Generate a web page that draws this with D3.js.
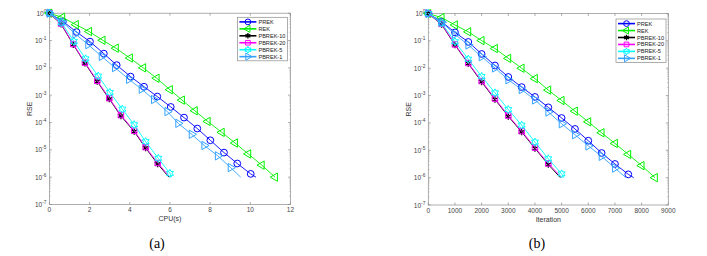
<!DOCTYPE html>
<html>
<head>
<meta charset="utf-8">
<script src="https://cdn.jsdelivr.net/npm/d3@7"></script>
<style>
body { margin: 0; background: #fff; }
text { font-family: "Liberation Sans", Arial, sans-serif; }
.cap { font-family: "Liberation Serif", "Times New Roman", serif; }
</style>
</head>
<body>
<div id="chart"></div>
<script>
// series labels, in plotting order
var seriesNames = ["PREK", "REK", "PBREK-10", "PBREK-20", "PBREK-5", "PBREK-1"];

// iterations at the marker points (last entry = stopping point)
var iterPrek   = [0, 500, 1000, 1500, 2000, 2500, 3000, 3500, 4000, 4500, 5000, 5500, 6000, 6500, 7000, 7500, 7700];
var iterRek    = [0, 500, 1000, 1500, 2000, 2500, 3000, 3500, 4000, 4500, 5000, 5500, 6000, 6500, 7000, 7500, 8000, 8500];
var iterPb10   = [0, 500, 1000, 1500, 2000, 2500, 3000, 3500, 4000, 4500, 4950];
var iterPb20   = [0, 500, 1000, 1500, 2000, 2500, 3000, 3500, 4000, 4500, 5000];
var iterPb5    = [0, 500, 1000, 1500, 2000, 2500, 3000, 3500, 4000, 4500, 5000, 5080];
var iterPb1    = [0, 500, 1000, 1500, 2000, 2500, 3000, 3500, 4000, 4500, 5000, 5500, 6000, 6500, 7000, 7410];

// CPU time (s) at the same points
var cpuPrek = [0, 0.67, 1.35, 2.02, 2.71, 3.35, 4.04, 4.71, 5.37, 6.04, 6.70, 7.36, 8.01, 8.69, 9.35, 10.02, 10.28];
var cpuRek  = [0, 0.64, 1.32, 1.98, 2.65, 3.31, 4.01, 4.67, 5.34, 6.0, 6.6, 7.24, 7.88, 8.58, 9.24, 9.90, 10.57, 11.23];
var cpuPb10 = [0, 0.58, 1.19, 1.77, 2.38, 2.98, 3.56, 4.22, 4.79, 5.39, 5.95];
var cpuPb20 = [0, 0.58, 1.19, 1.77, 2.38, 2.98, 3.56, 4.22, 4.79, 5.39, 6.0];
var cpuPb5  = [0, 0.6, 1.22, 1.80, 2.43, 3.01, 3.63, 4.22, 4.79, 5.42, 6.0, 6.08];
var cpuPb1  = [0, 0.64, 1.29, 1.93, 2.60, 3.26, 3.96, 4.59, 5.2, 5.87, 6.41, 7.08, 7.71, 8.38, 9.02, 9.52];

// RSE, as log10 exponent
var rsePrek = [0, -0.3, -0.69, -1.04, -1.48, -1.9, -2.32, -2.69, -3.05, -3.43, -3.82, -4.22, -4.65, -5.1, -5.5, -5.88, -6.0];
var rseRek  = [0, -0.15, -0.42, -0.67, -0.99, -1.28, -1.64, -2.0, -2.38, -2.8, -3.18, -3.57, -3.96, -4.36, -4.75, -5.15, -5.56, -6.0];
var rsePb10 = [0, -0.4, -1.15, -1.83, -2.5, -3.14, -3.76, -4.33, -4.93, -5.52, -6.0];
var rsePb20 = [0, -0.38, -1.13, -1.81, -2.47, -3.11, -3.73, -4.3, -4.9, -5.48, -6.0];
var rsePb5  = [0, -0.35, -1.03, -1.67, -2.3, -2.9, -3.51, -4.08, -4.7, -5.31, -5.86, -6.0];
var rsePb1  = [0, -0.32, -0.76, -1.15, -1.58, -1.99, -2.42, -2.78, -3.16, -3.6, -4.03, -4.43, -4.84, -5.22, -5.65, -6.0];

// axis ticks
var cpuTicks = [0, 2, 4, 6, 8, 10, 12];
var iterTicks = [0, 1000, 2000, 3000, 4000, 5000, 6000, 7000, 8000, 9000];
var yExponents = [0, -1, -2, -3, -4, -5, -6, -7];

var colours = ["#0000ff", "#00f000", "#000000", "#ff00ff", "#00ffff", "#33a3ff"];
var markers = ["circle", "triLeft", "asterisk", "square", "hexagram", "triRight"];

var series = [
    {name: seriesNames[0], iter: iterPrek, cpu: cpuPrek, rse: rsePrek, markEnd: false},
    {name: seriesNames[1], iter: iterRek, cpu: cpuRek, rse: rseRek, markEnd: true},
    {name: seriesNames[2], iter: iterPb10, cpu: cpuPb10, rse: rsePb10, markEnd: false},
    {name: seriesNames[3], iter: iterPb20, cpu: cpuPb20, rse: rsePb20, markEnd: false},
    {name: seriesNames[4], iter: iterPb5, cpu: cpuPb5, rse: rsePb5, markEnd: false},
    {name: seriesNames[5], iter: iterPb1, cpu: cpuPb1, rse: rsePb1, markEnd: false}
];
series.forEach(function(s, i) {
    s.colour = colours[i];
    s.marker = markers[i];
});

var svg = d3.select("#chart").append("svg")
    .attr("width", 707)
    .attr("height", 256);

function hexagram(r) {
    var p = d3.path();
    for (var k = 0; k < 12; k++) {
        var a = -Math.PI / 2 + k * Math.PI / 6;
        var rr = k % 2 == 0 ? r : r * 0.55;
        if (k == 0) p.moveTo(rr * Math.cos(a), rr * Math.sin(a));
        else p.lineTo(rr * Math.cos(a), rr * Math.sin(a));
    }
    p.closePath();
    return p.toString();
}

function drawMarker(g, type, colour, cx, cy, scale) {
    var m;
    if (type == "circle") {
        m = g.append("path").attr("d", d3.symbol(d3.symbolCircle, 36 * scale * scale)());
    } else if (type == "triLeft" || type == "triRight") {
        m = g.append("path").attr("d", d3.symbol(d3.symbolTriangle, 30 * scale * scale)());
    } else if (type == "square") {
        m = g.append("path").attr("d", d3.symbol(d3.symbolSquare, 30 * scale * scale)());
    } else if (type == "asterisk") {
        m = g.append("path").attr("d", d3.symbol(d3.symbolAsterisk, 30 * scale * scale)());
    } else {
        m = g.append("path").attr("d", hexagram(4 * scale));
    }
    var rot = type == "triLeft" ? -90 : (type == "triRight" ? 90 : 0);
    m.attr("transform", "translate(" + cx + "," + cy + ") rotate(" + rot + ")")
        .style("fill", "none")
        .style("stroke", colour)
        .style("stroke-width", type == "asterisk" ? 1.3 : 1);
}

function drawPanel(cfg) {
    var w = cfg.x1 - cfg.x0,
        h = cfg.y1 - cfg.y0;
    var g = svg.append("g")
        .attr("transform", "translate(" + cfg.x0 + "," + cfg.y0 + ")");

    var x = d3.scaleLinear().domain(cfg.xDomain).range([0, w]);
    var y = d3.scaleLog().domain([1e-7, 1]).range([h, 0]);

    // box
    g.append("rect")
        .attr("width", w)
        .attr("height", h)
        .style("fill", "none")
        .style("stroke", "#8c8c8c")
        .style("stroke-width", 0.7);

    // x ticks (bottom and top, inward)
    cfg.xTicks.forEach(function(t) {
        g.append("line").attr("x1", x(t)).attr("x2", x(t)).attr("y1", h).attr("y2", h - 2.5)
            .style("stroke", "#8c8c8c").style("stroke-width", 0.7);
        g.append("line").attr("x1", x(t)).attr("x2", x(t)).attr("y1", 0).attr("y2", 2.5)
            .style("stroke", "#8c8c8c").style("stroke-width", 0.7);
        g.append("text")
            .attr("x", x(t))
            .attr("y", h + 8)
            .attr("text-anchor", "middle")
            .style("font-size", "6.5px")
            .style("fill", "#444")
            .text(t);
    });

    // y ticks, major + minor, both sides
    yExponents.forEach(function(e) {
        var v = Math.pow(10, e);
        [0, w].forEach(function(xx, side) {
            var dir = side == 0 ? 1 : -1;
            g.append("line").attr("x1", xx).attr("x2", xx + dir * 2.5).attr("y1", y(v)).attr("y2", y(v))
                .style("stroke", "#8c8c8c").style("stroke-width", 0.7);
            if (e < 0) {
                for (var k = 2; k <= 9; k++) {
                    var mv = v * k;
                    g.append("line").attr("x1", xx).attr("x2", xx + dir * 1.4).attr("y1", y(mv)).attr("y2", y(mv))
                        .style("stroke", "#a0a0a0").style("stroke-width", 0.5);
                }
            }
        });
        var lab = g.append("text")
            .attr("x", -3)
            .attr("y", y(v) + 2.5)
            .attr("text-anchor", "end")
            .style("font-size", "6.5px")
            .style("fill", "#444");
        lab.append("tspan").text("10");
        lab.append("tspan").attr("dy", -3).style("font-size", "4.8px").text(e);
    });

    // axis labels
    g.append("text")
        .attr("transform", "translate(" + (-17) + "," + (h / 2) + ") rotate(-90)")
        .attr("text-anchor", "middle")
        .style("font-size", "7px")
        .style("fill", "#333")
        .text("RSE");
    g.append("text")
        .attr("x", w / 2)
        .attr("y", h + 16.5)
        .attr("text-anchor", "middle")
        .style("font-size", "7px")
        .style("fill", "#333")
        .text(cfg.xLabel);

    var line = d3.line()
        .x(function(d) { return x(d.x); })
        .y(function(d) { return y(d.y); });

    series.forEach(function(s) {
        var pts = s.rse.map(function(r, i) {
            return {x: s[cfg.xKey][i], y: Math.pow(10, r)};
        });
        g.append("path")
            .attr("d", line(pts))
            .style("fill", "none")
            .style("stroke", s.colour)
            .style("stroke-width", 0.9);
        var mg = g.append("g");
        var n = s.markEnd ? pts.length : pts.length - 1;
        for (var i = 0; i < n; i++) {
            drawMarker(mg, s.marker, s.colour, x(pts[i].x), y(pts[i].y), 1);
        }
    });

    // legend
    var lg = g.append("g")
        .attr("transform", "translate(" + cfg.legX + "," + cfg.legY + ")");
    lg.append("rect")
        .attr("width", 50)
        .attr("height", 43.5)
        .style("fill", "#fff")
        .style("stroke", "#8c8c8c")
        .style("stroke-width", 0.7);
    series.forEach(function(s, i) {
        var ry = 4.6 + i * 6.95;
        lg.append("line")
            .attr("x1", 2).attr("x2", 19).attr("y1", ry).attr("y2", ry)
            .style("stroke", s.colour)
            .style("stroke-width", 1.6);
        drawMarker(lg, s.marker, s.colour, 10.5, ry, 0.85);
        lg.append("text")
            .attr("x", 21)
            .attr("y", ry + 2)
            .style("font-size", "5.6px")
            .style("fill", "#222")
            .text(s.name);
    });

    svg.append("text")
        .attr("class", "cap")
        .attr("x", cfg.capX)
        .attr("y", 248)
        .attr("text-anchor", "middle")
        .style("font-size", "14px")
        .style("fill", "#000")
        .text(cfg.caption);
}

drawPanel({
    x0: 49.4, x1: 290.5, y0: 13.2, y1: 204.5,
    xDomain: [0, 12], xTicks: cpuTicks, xKey: "cpu", xLabel: "CPU(s)",
    legX: 188, legY: 4.1, capX: 157, caption: "(a)"
});
drawPanel({
    x0: 428.3, x1: 668.3, y0: 13.5, y1: 205,
    xDomain: [0, 9000], xTicks: iterTicks, xKey: "iter", xLabel: "Iteration",
    legX: 187.7, legY: 5.5, capX: 537, caption: "(b)"
});
</script>
</body>
</html>
